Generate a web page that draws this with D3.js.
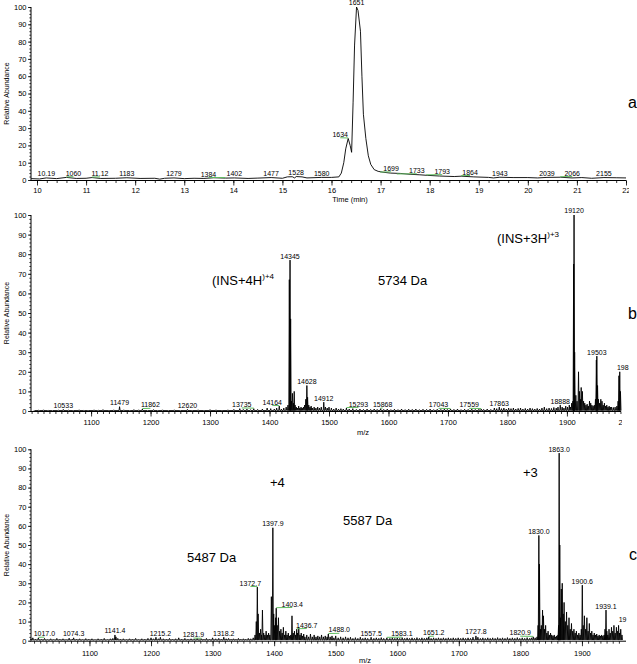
<!DOCTYPE html>
<html><head><meta charset="utf-8">
<script src="https://cdn.jsdelivr.net/npm/d3@7"></script>
<style>
body{margin:0;background:#fff}
svg{display:block}
text{font-family:Arial,"Liberation Sans",sans-serif}
</style>
</head><body>
<svg id="chart" width="637" height="664"></svg>
<script>
// ---------------- DATA ----------------
// Panel a: chromatogram (time in min, relative abundance %)
const chromTrace = [
[9.88,0.8],[10.05,0.6],[10.19,1.2],[10.4,0.8],[10.6,1.5],[10.8,0.9],[11.0,1.0],[11.12,1.4],[11.3,0.9],
[11.6,1.0],[11.83,1.3],[12.1,0.9],[12.4,1.0],[12.5,0.5],[12.6,1.0],[12.79,1.2],[13.0,0.8],[13.2,1.0],
[13.4,0.9],[13.6,1.3],[13.84,1.1],[14.02,1.2],[14.3,0.9],[14.5,1.1],[14.77,1.4],[15.0,1.0],[15.1,1.8],
[15.2,1.9],[15.25,1.2],[15.28,2.0],[15.4,1.8],[15.5,1.2],[15.8,1.5],[16.0,1.5],[16.15,1.8],[16.2,4],
[16.25,10],[16.29,18],[16.34,24],[16.38,20],[16.41,16],[16.44,45],[16.47,78],[16.51,100],[16.54,98],
[16.59,86],[16.62,60],[16.65,38],[16.7,24],[16.75,14],[16.8,9],[16.87,6],[16.95,5],[17.05,4.5],
[17.2,4],[17.4,3.8],[17.6,3.3],[17.8,3],[17.95,2.7],[18.2,2.3],[18.5,2.0],[18.64,2.2],[18.9,1.8],
[19.2,1.5],[19.3,1.2],[19.43,1.6],[19.7,1.4],[20.0,1.4],[20.2,1.2],[20.39,1.5],[20.66,1.6],[20.9,1.2],
[21.1,1.4],[21.3,1.0],[21.55,1.4],[21.8,1.3],[22.0,1.2]
];
const chromLabels = [
[10.19,1.2,"10.19"],[10.60,1.5,"1060"],[11.12,1.4,"11.12"],[11.83,1.3,"1183"],[12.79,1.2,"1279"],
[13.84,1.1,"1384"],[14.02,1.2,"1402"],[14.77,1.4,"1477"],[15.28,2.0,"1528"],[15.80,1.5,"1580"],
[16.34,24,"1634"],[16.51,100,"1651"],[16.99,4.3,"1699"],[17.33,3.2,"1733"],[17.93,2.7,"1793"],
[18.64,2.2,"1864"],[19.43,1.6,"1943"],[20.39,1.5,"2039"],[20.66,1.6,"2066"],[21.55,1.4,"2155"]
];
const timeTicks = [10,11,12,13,14,15,16,17,18,19,20,21,22];

// Panel b: mass spectrum (m/z, relative abundance %)
const spectrumB = [
[1005,0.5],[1012,0.4],[1020,0.6],[1028,0.3],[1035,0.5],[1045,0.4],[1053.3,0.8],[1062,0.4],[1070,0.5],
[1080,0.6],[1088,0.4],[1095,0.5],[1105,0.6],[1112,0.4],[1120,0.7],[1130,0.5],[1138,0.6],[1147.9,2.2],
[1155,0.6],[1165,0.5],[1172,0.7],[1180,0.6],[1186.2,1.0],[1195,0.5],[1205,0.7],[1212,0.5],[1220,0.6],
[1230,0.5],[1240,0.6],[1250,0.5],[1262,0.8],[1270,0.5],[1280,0.6],[1290,0.5],[1300,0.7],[1310,0.6],
[1320,0.5],[1330,0.6],[1340,0.8],[1350,1.2],[1356,0.8],[1362,1.0],[1368,0.7],[1373.5,1.2],[1380,0.8],
[1388,1.0],[1396,1.5],[1402,1.2],[1408,1.0],[1412,1.5],[1416.4,2.5],[1420,1.0],[1424,1.5],[1428,2.0],
[1431,3],[1433.3,67],[1434.5,77],[1435.5,47],[1437,5],[1438.5,9],[1440,4],[1441.5,10],[1443,3],
[1445,2],[1447,1.5],[1449,2.5],[1451,1.5],[1453,2],[1455,1.5],[1457,2],[1459,3],[1461,6],[1462.8,13],
[1464,7],[1466,3],[1468,2],[1470,2.5],[1472,1.5],[1475,2],[1478,1.5],[1481,2],[1484,1.5],[1487,2],
[1491.2,4.5],[1494,2],[1497,1.5],[1500,2],[1504,1.5],[1508,1],[1512,1.5],[1516,1],[1520,1.2],[1524,1],
[1529.3,1.5],[1534,1],[1540,1.2],[1546,0.8],[1552,1],[1558,0.8],[1564,1],[1570,0.8],[1576,1],[1581,0.8],
[1586.8,1.2],[1592,0.8],[1598,1],[1604,0.7],[1610,0.9],[1616,0.7],[1622,1.0],[1628,0.7],[1634,0.9],
[1640,0.8],[1646,1],[1652,0.7],[1658,0.9],[1664,0.8],[1670,1],[1676,0.7],[1682,0.9],[1688,0.8],
[1694,1.0],[1699,0.8],[1704.3,1.0],[1710,0.8],[1716,1],[1722,0.7],[1728,0.9],[1734,0.8],[1740,1],
[1746,0.8],[1752,0.9],[1755.9,1.0],[1760,0.8],[1766,1.0],[1772,0.8],[1778,1.5],[1782,1.2],[1786.3,2.0],
[1790,1.2],[1794,1.5],[1798,1.0],[1802,1.5],[1806,1.2],[1810,1.5],[1814,1.0],[1818,1.3],[1822,1.5],
[1826,1.0],[1830,1.3],[1834,1.0],[1838,1.5],[1842,1.2],[1846,1.0],[1850,1.3],[1854,1.0],[1858,1.5],
[1862,2.0],[1866,1.2],[1870,1.5],[1874,1.3],[1878,1.8],[1882,1.5],[1885,2.0],[1888.8,3.0],[1892,2.0],
[1895,1.5],[1898,2.5],[1901,2.0],[1904,3],[1906,2],[1908,4],[1910,5],[1911.3,75],[1912,100],[1913,30],
[1915,8],[1917,5],[1919.5,20],[1921,10],[1922.5,6],[1924,12],[1926,10],[1928,5],[1930,4],[1932,3],
[1934,3.5],[1936,2.5],[1938,5],[1940,4],[1942,3],[1944,2.5],[1946,3],[1948,6],[1949.5,26],[1950.3,28],
[1951.5,13],[1953,6],[1955,4],[1957,6],[1959,5],[1961,3],[1963,4],[1965,2.5],[1967,3],[1969,2],
[1971,2.5],[1973,2],[1975,2],[1978,1.8],[1981,2],[1984,2.5],[1986,5],[1987.5,18],[1988.8,20],[1990,10]
];
const labelsB = [
[1053.3,0.8,"10533"],[1147.9,2.2,"11479"],[1186.2,1.0,"11862"],[1262.0,0.8,"12620"],[1373.5,1.2,"13735"],
[1416.4,2.5,"14164"],[1434.5,77,"14345"],[1462.8,13,"14628"],[1491.2,4.5,"14912"],[1529.3,1.5,"15293"],
[1586.8,1.2,"15868"],[1704.3,1.0,"17043"],[1755.9,1.0,"17559"],[1786.3,2.0,"17863"],[1888.8,3.0,"18888"],
[1912.0,100,"19120"],[1950.3,28,"19503"],[1988.8,20,"198"]
];

// Panel c: mass spectrum (m/z, relative abundance %)
const spectrumC = [
[1005,1.0],[1008,1.5],[1012,0.8],[1017,1.5],[1022,0.8],[1027,1.2],[1032,0.6],[1037,1.0],[1042,0.7],
[1047,1.2],[1052,0.8],[1057,1.0],[1062,0.7],[1067,1.3],[1072,0.8],[1074.3,1.5],[1079,0.8],[1084,1.0],
[1089,0.7],[1094,1.1],[1099,0.8],[1104,1.0],[1109,0.7],[1114,1.0],[1119,0.8],[1124,1.2],[1129,0.7],
[1134,1.0],[1138,1.2],[1141.4,3.0],[1143,2.0],[1146,1.2],[1150,0.8],[1155,1.0],[1160,0.7],[1165,1.0],
[1170,0.8],[1175,1.2],[1180,0.7],[1185,1.0],[1190,0.8],[1195,1.2],[1200,1.5],[1204,1.0],[1208,1.8],
[1212,1.0],[1215.2,1.8],[1220,1.0],[1225,0.8],[1230,1.2],[1235,0.8],[1240,1.0],[1245,1.5],[1250,0.8],
[1255,1.2],[1260,0.8],[1265,1.0],[1270,0.8],[1275,1.2],[1281.9,1.0],[1286,0.8],[1290,1.2],[1295,0.8],
[1300,1.5],[1305,1.0],[1310,1.2],[1314,0.8],[1318.2,1.8],[1322,1.0],[1326,1.2],[1330,0.8],[1334,1.0],
[1338,0.8],[1342,1.2],[1346,0.8],[1350,1.0],[1354,0.8],[1358,1.2],[1362,1.0],[1366,1.5],[1369,3],
[1371,10],[1372.7,28],[1374,14],[1376,4],[1378,6],[1379.5,3],[1381,16],[1383,4],[1385,3],[1387,5],
[1389,3],[1391,4],[1393,3],[1395.5,23],[1397.9,59],[1399.3,14],[1401,8],[1402.5,12],[1403.4,17],
[1405,8],[1407,12],[1409,5],[1411,6],[1413,4],[1415,7],[1417,3],[1419,5],[1421,3],[1423,4],[1425,2.5],
[1427,3],[1429,13],[1431,4],[1433,5],[1435,3],[1436.7,6],[1438,4],[1440,7],[1442,3],[1444,4],[1446,2.5],
[1448,3.5],[1450,2],[1453,3],[1456,2],[1459,3.5],[1462,2],[1465,3],[1468,2],[1471,2.5],[1474,2],
[1477,3],[1480,2],[1483,2.5],[1486,2],[1488,3.5],[1491,2],[1494,2.5],[1497,1.5],[1500,2.5],[1504,1.5],
[1508,2],[1512,1.5],[1516,2],[1520,1.5],[1524,1.8],[1528,1.2],[1532,1.6],[1536,1.2],[1540,1.8],
[1544,1.2],[1548,1.5],[1552,1.2],[1557.5,1.8],[1562,1.2],[1566,1.5],[1570,1.2],[1574,1.6],[1578,1.2],
[1583.1,1.5],[1588,1.2],[1592,1.6],[1596,1.2],[1600,1.5],[1604,1.2],[1608,1.6],[1612,1.2],[1616,1.5],
[1620,1.2],[1624,1.5],[1628,1.2],[1632,1.6],[1636,1.2],[1640,1.5],[1644,1.2],[1648,1.5],[1651.2,2],
[1655,1.2],[1659,1.5],[1663,1.2],[1667,1.5],[1671,1.2],[1675,1.5],[1679,1.2],[1683,1.5],[1687,1.2],
[1691,1.5],[1695,1.2],[1699,1.5],[1703,1.2],[1707,1.5],[1711,1.2],[1715,1.5],[1719,1.2],[1723,1.8],
[1727.8,2.5],[1731,1.8],[1735,1.2],[1739,1.5],[1743,1.2],[1747,1.5],[1751,1.2],[1755,1.5],[1759,1.2],
[1763,1.6],[1767,1.2],[1771,1.5],[1775,1.2],[1779,1.6],[1783,1.2],[1787,1.5],[1791,1.2],[1795,1.6],
[1799,1.2],[1803,1.5],[1807,1.2],[1811,1.6],[1815,1.2],[1818,1.5],[1820.9,2],[1824,1.5],[1827,2],
[1828.8,8],[1830,55],[1831,40],[1832.5,6],[1834,8],[1836,16],[1837.5,13],[1839,6],[1841,8],[1843,4],
[1845,5],[1847,3],[1849,4],[1851,3],[1853,2.5],[1855,3],[1857,2],[1859,2.5],[1861,3],[1862,8],[1863,98],
[1864,50],[1865,12],[1866.5,27],[1868,30],[1869.5,14],[1871,20],[1873,10],[1875,15],[1877,8],[1879,12],
[1881,6],[1883,9],[1885,5],[1887,6],[1889,4],[1891,5],[1893,3],[1895,4],[1897,3],[1899,6],[1900.6,29],
[1902,8],[1904,13],[1906,6],[1908,12],[1910,5],[1912,9],[1914,4],[1916,5],[1918,3],[1920,4],[1922,3],
[1924,3.5],[1926,2.5],[1928,3],[1930,2.5],[1932,3],[1934,2.5],[1936,3],[1937.5,6],[1939.1,16],
[1940.5,5],[1942,3],[1944,6],[1946,4],[1948,7],[1950,5],[1952,8],[1954,4],[1956,7],[1958,5],[1959.5,8],
[1961,4],[1963,6],[1965,3]
];
const labelsC = [
[1017.0,1.5,"1017.0"],[1074.3,1.5,"1074.3"],[1141.4,3.0,"1141.4"],[1215.2,1.8,"1215.2"],
[1281.9,1.0,"1281.9"],[1318.2,1.8,"1318.2"],[1372.7,28,"1372.7"],[1397.9,59,"1397.9"],
[1403.4,17,"1403.4"],[1436.7,6,"1436.7"],[1488.0,3.5,"1488.0"],[1557.5,1.8,"1557.5"],
[1583.1,1.5,"1583.1"],[1651.2,2,"1651.2"],[1727.8,2.5,"1727.8"],[1820.9,2,"1820.9"],
[1830.0,55,"1830.0"],[1863.0,98,"1863.0"],[1900.6,29,"1900.6"],[1939.1,16,"1939.1"],[1959.5,9,"19"]
];
const mzTicksB = [1100,1200,1300,1400,1500,1600,1700,1800,1900,2000];
const mzTicksC = [1100,1200,1300,1400,1500,1600,1700,1800,1900];
const abundanceTicks = [0,10,20,30,40,50,60,70,80,90,100];

// ---------------- LAYOUT (label nudges in px; keys with leaders) ----------------
const nudgeA = {"1060":7,"11.12":8,"1384":-17,"1634":-8,"1699":11,"1733":20,"1793":16,"1864":9,"2066":12};
const nudgeB = {"11862":8,"13735":-12,"14164":-7,"15293":12,"15868":2,"17043":-12,"17559":-12,"18888":0,"198":3};
const nudgeC = {"1017.0":6,"1281.9":-8,"1372.7":-7,"1403.4":16,"1436.7":10,"1488.0":11,"1583.1":15,"1651.2":5,"1820.9":-13,"19":4};
const noLeader = new Set(["198","19"]);

const svg = d3.select("#chart");
const FONT = 'Arial,"Liberation Sans",sans-serif';
const GREEN = "#62bd62";
let clipId = 0;

function panel(cfg){
  const {x, y, axisX0, axisX1, clipX, tickPad} = cfg;
  const g = svg.append("g");
  const y0 = y(0);
  const cid = "clip"+(clipId++);
  svg.append("clipPath").attr("id",cid).append("rect")
    .attr("x",0).attr("y",0).attr("width",clipX).attr("height",664);

  // y axis
  const yMajor = d3.axisLeft(y).tickValues(abundanceTicks).tickSize(3).tickPadding(1.5)
    .tickFormat(d3.format("d")).tickSizeOuter(0);
  const gy = g.append("g").attr("transform",`translate(${axisX0},0)`).call(yMajor);
  gy.select(".domain").remove();
  gy.attr("font-size",7.5).attr("font-family",FONT);
  const yMinor = d3.axisLeft(y).tickValues(d3.range(0,101,2)).tickSize(1.6).tickFormat("").tickSizeOuter(0);
  const gym = g.append("g").attr("transform",`translate(${axisX0},0)`).call(yMinor);
  gym.select(".domain").remove();
  g.append("line").attr("x1",axisX0).attr("x2",axisX0).attr("y1",y(0)).attr("y2",y(100))
    .attr("stroke","#000").attr("stroke-width",1);

  // x axis
  const gxWrap = g.append("g").attr("clip-path",`url(#${cid})`);
  const xMajor = d3.axisBottom(x).tickValues(cfg.majorTicks).tickSize(5).tickPadding(tickPad)
    .tickFormat(d3.format("d")).tickSizeOuter(0);
  const gx = gxWrap.append("g").attr("transform",`translate(0,${y0+0.5})`).call(xMajor);
  gx.select(".domain").remove();
  gx.attr("font-size",7.5).attr("font-family",FONT);
  const xMinor = d3.axisBottom(x).tickValues(cfg.minorTicks).tickSize(2.5).tickFormat("").tickSizeOuter(0);
  const gxm = gxWrap.append("g").attr("transform",`translate(0,${y0+0.5})`).call(xMinor);
  gxm.select(".domain").remove();
  g.append("line").attr("x1",axisX0).attr("x2",axisX1).attr("y1",y0+0.5).attr("y2",y0+0.5)
    .attr("stroke","#000").attr("stroke-width",1);
  g.selectAll(".tick line").attr("stroke","#000").attr("stroke-width",0.8);

  // y title
  g.append("text").attr("transform",`translate(9,${(y(0)+y(100))/2}) rotate(-90)`)
    .attr("text-anchor","middle").attr("font-size",7).attr("font-family",FONT).text("Relative Abundance");
  return {g, cid};
}

function peakLabels(g, labels, x, y, nudge, size){
  const lg = g.append("g").attr("font-size",size).attr("font-family",FONT);
  labels.forEach(([xv, v, t]) => {
    const px = x(xv), py = y(v);
    const dx = nudge[t] !== undefined ? nudge[t] : 0;
    const ty = py - 4;
    lg.append("text").attr("x",px+dx).attr("y",ty).attr("dy","0.35em")
      .attr("text-anchor","middle").attr("fill","#000").text(t);
    if (nudge[t] !== undefined && !noLeader.has(t)) {
      lg.append("line").attr("x1",px).attr("y1",py-0.5).attr("x2",px+dx).attr("y2",ty+3.3)
        .attr("stroke",GREEN).attr("stroke-width",1);
    }
  });
}

// ---------- Panel a ----------
{
  const x = d3.scaleLinear().domain([10,22]).range([37,626]);
  const y = d3.scaleLinear().domain([0,100]).range([180,7]);
  const {g, cid} = panel({x, y, axisX0:31, axisX1:626, clipX:629, tickPad:1.8,
    majorTicks: timeTicks, minorTicks: d3.range(10,22.01,0.2).map(v=>+v.toFixed(1))});
  const line = d3.line().x(d=>x(d[0])).y(d=>y(d[1]));
  g.append("path").datum(chromTrace).attr("d",line).attr("fill","none")
    .attr("stroke","#000").attr("stroke-width",0.9).attr("clip-path",`url(#${cid})`);
  peakLabels(g, chromLabels, x, y, nudgeA, 7);
  g.append("text").attr("x",350).attr("y",202).attr("text-anchor","middle")
    .attr("font-size",7.5).attr("font-family",FONT).text("Time (min)");
  g.append("text").attr("x",628).attr("y",108).attr("font-size",16).attr("font-family",FONT).text("a");
}

function spectrumPath(peaks, x, y, hw, floor){
  const pts = [];
  peaks.forEach(([m,h]) => { pts.push([m-hw,floor],[m,h],[m+hw,floor]); });
  return d3.line().x(d=>x(d[0])).y(d=>y(d[1]))(pts);
}

// ---------- Panel b ----------
{
  const x = d3.scaleLinear().domain([1000,2000]).range([31.6,626.4]);
  const y = d3.scaleLinear().domain([0,100]).range([411,215]);
  const {g, cid} = panel({x, y, axisX0:31, axisX1:621, clipX:622, tickPad:3.6,
    majorTicks: mzTicksB, minorTicks: d3.range(1000,2001,10)});
  g.append("path").attr("d",spectrumPath(spectrumB, x, y, 0.9, 0.2)).attr("fill","none")
    .attr("stroke","#000").attr("stroke-width",0.9).attr("clip-path",`url(#${cid})`);
  peakLabels(g, labelsB, x, y, nudgeB, 7);
  g.append("text").attr("x",363).attr("y",435).attr("text-anchor","middle")
    .attr("font-size",7.5).attr("font-family",FONT).text("m/z");
  const t1 = g.append("text").attr("x",212).attr("y",285).attr("font-size",13).attr("font-family",FONT);
  t1.append("tspan").text("(INS+4H");
  t1.append("tspan").attr("font-size",8).attr("dy",-6).text(")+4");
  g.append("text").attr("x",378).attr("y",285).attr("font-size",13).attr("font-family",FONT).text("5734 Da");
  const t2 = g.append("text").attr("x",497).attr("y",243).attr("font-size",13).attr("font-family",FONT);
  t2.append("tspan").text("(INS+3H");
  t2.append("tspan").attr("font-size",8).attr("dy",-6).text(")+3");
  g.append("text").attr("x",628).attr("y",319).attr("font-size",16).attr("font-family",FONT).text("b");
}

// ---------- Panel c ----------
{
  const x = d3.scaleLinear().domain([1000,2000]).range([27.9,643.5]);
  const y = d3.scaleLinear().domain([0,100]).range([640.7,449.3]);
  const {g, cid} = panel({x, y, axisX0:31, axisX1:626, clipX:628, tickPad:4,
    majorTicks: mzTicksC, minorTicks: d3.range(1010,1961,10)});
  g.append("path").attr("d",spectrumPath(spectrumC, x, y, 0.9, 0.4)).attr("fill","none")
    .attr("stroke","#000").attr("stroke-width",0.9).attr("clip-path",`url(#${cid})`);
  peakLabels(g, labelsC, x, y, nudgeC, 7);
  g.append("text").attr("x",365).attr("y",663).attr("text-anchor","middle")
    .attr("font-size",7.5).attr("font-family",FONT).text("m/z");
  g.append("text").attr("x",270).attr("y",487).attr("font-size",13).attr("font-family",FONT).text("+4");
  g.append("text").attr("x",187).attr("y",562).attr("font-size",13).attr("font-family",FONT).text("5487 Da");
  g.append("text").attr("x",343).attr("y",525).attr("font-size",13).attr("font-family",FONT).text("5587 Da");
  g.append("text").attr("x",523).attr("y",477).attr("font-size",13).attr("font-family",FONT).text("+3");
  g.append("text").attr("x",629).attr("y",560).attr("font-size",16).attr("font-family",FONT).text("c");
}
</script>
</body></html>
